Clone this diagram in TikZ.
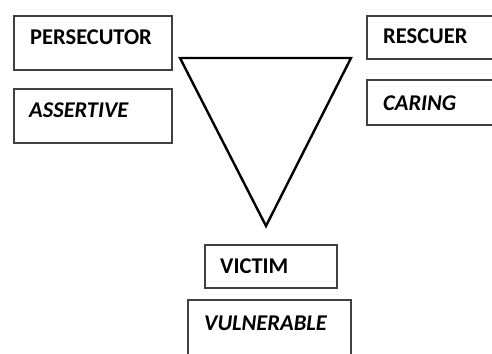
\documentclass[tikz,border=0pt]{standalone}
\usepackage{fontspec}
\setmainfont{Carlito}
\begin{document}
\begin{tikzpicture}[x=1pt,y=-1pt,
  frame/.style={draw=black!75,line width=1.4pt},
  label/.style={anchor=base west,inner sep=0pt,font=\fontsize{22.5}{26}\selectfont\bfseries},
  tri/.style={draw=black,line width=2.4pt,line join=miter}]
\useasboundingbox (0,0) rectangle (492,353);
\clip (0,0) rectangle (492,353);
% role boxes
\draw[frame] (14,16) rectangle (172,70);
\draw[frame] (14,89) rectangle (172,143);
\draw[frame] (367,16) rectangle (500,59);
\draw[frame] (367,80) rectangle (500,125);
\draw[frame] (205,245) rectangle (337,288);
\draw[frame] (188,300) rectangle (351,360);
% labels
\node[label] (pers) at (30,45) {PERSECUTOR};
\node[label] (asse) at (29,117) {\itshape ASSERTIVE};
\node[label] (resc) at (383,44) {RESCUER};
\node[label] (cari) at (383,110) {\itshape CARING};
\node[label] (vict) at (220,273) {VICTIM};
\node[label] (vuln) at (204,330) {\itshape VULNERABLE};
% drama triangle
\coordinate (tl) at (180,58);
\coordinate (tr) at (351,58);
\coordinate (bt) at (266,226);
\draw[tri] (tl) -- (tr) -- (bt) -- cycle;
\end{tikzpicture}
\end{document}
